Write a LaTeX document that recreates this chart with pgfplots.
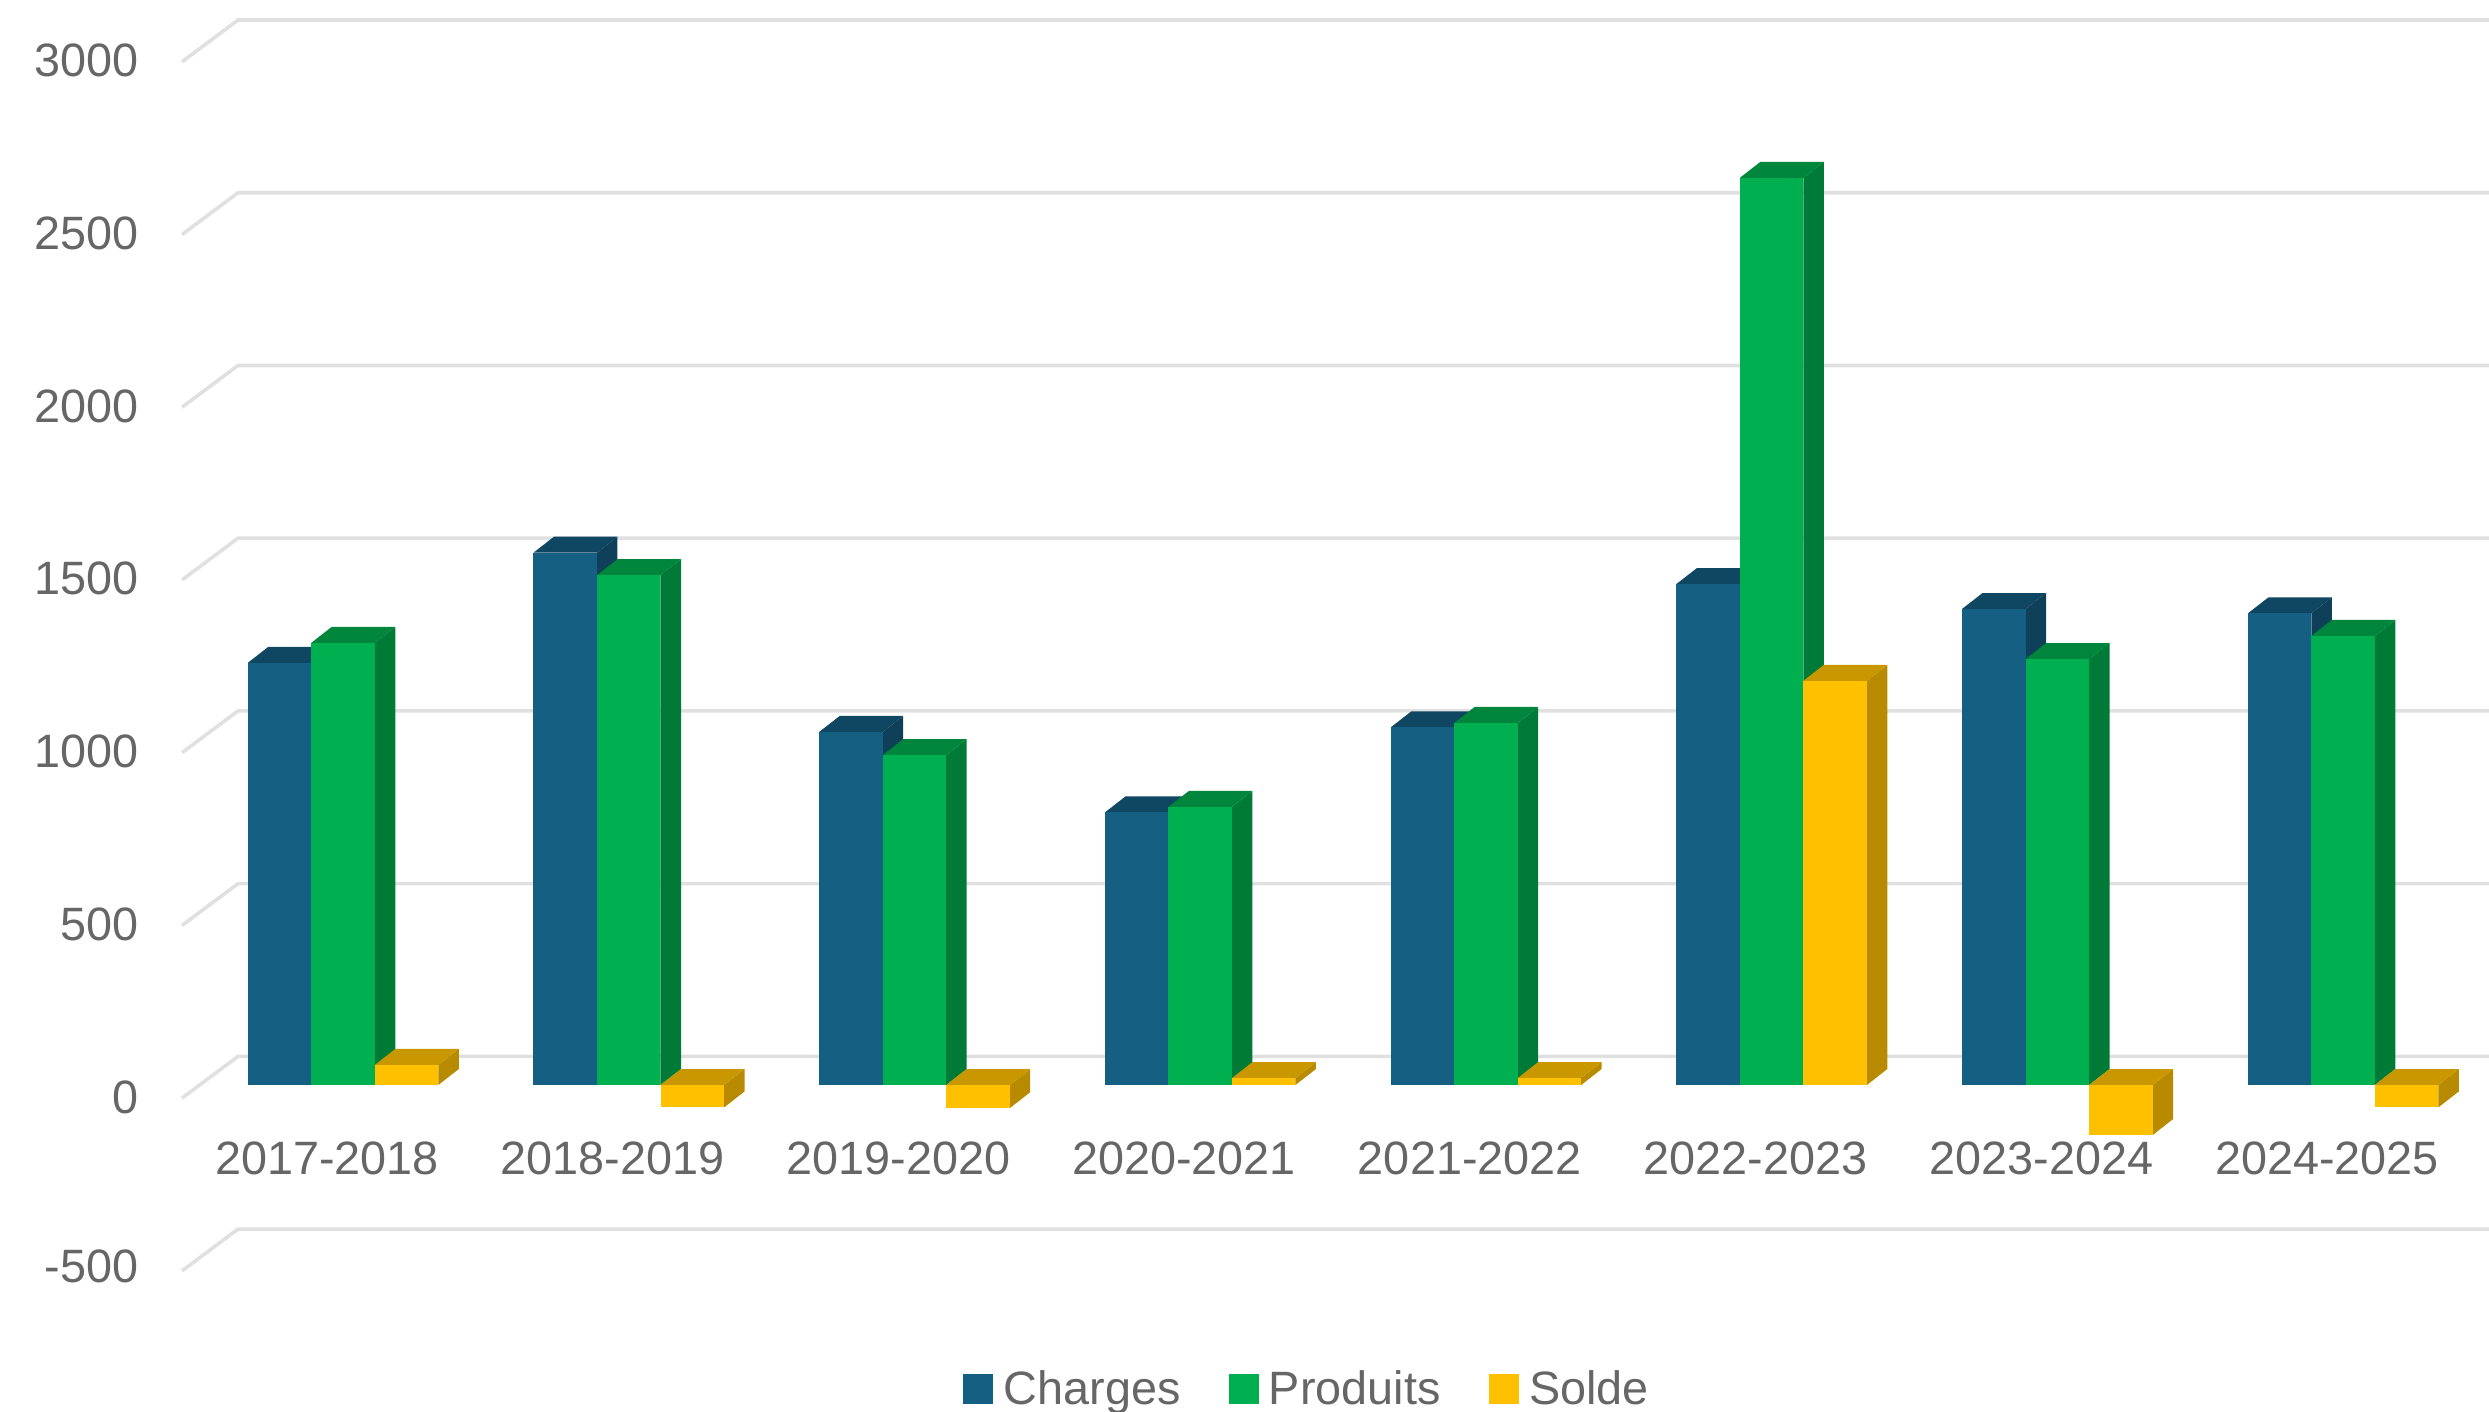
\documentclass[border=0pt]{standalone}
\usepackage{pgfplots}
\pgfplotsset{compat=1.18}
\usepackage{fontspec}
\setmainfont{Liberation Sans}
\definecolor{cBlue}{HTML}{156082}
\definecolor{cBlueTop}{HTML}{0F4661}
\definecolor{cBlueSide}{HTML}{0E4059}
\definecolor{cGreen}{HTML}{00B050}
\definecolor{cGreenTop}{HTML}{00853C}
\definecolor{cGreenSide}{HTML}{007A37}
\definecolor{cYellow}{HTML}{FFC000}
\definecolor{cYellowTop}{HTML}{C99700}
\definecolor{cYellowSide}{HTML}{B88A00}
\definecolor{cGrid}{HTML}{E0E0E0}
\definecolor{cText}{HTML}{666666}
% one 3-D column: #1 centre, #2 value, #3 colour stem, #4 extra options of the front face
\newcommand{\column}[4]{%
  \pgfmathsetmacro{\xl}{#1-0.11115}%
  \pgfmathsetmacro{\xr}{#1+0.11115}%
  \pgfmathsetmacro{\xlb}{\xl+0.0718}%
  \pgfmathsetmacro{\xrb}{\xr+0.0718}%
  \pgfmathsetmacro{\topv}{max(#2,0)}%
  \pgfmathsetmacro{\topb}{\topv+46.3}%
  \pgfmathsetmacro{\lowb}{#2+46.3}%
  \addplot[forget plot,draw=none,fill=#3Side] coordinates {(\xr,0) (\xrb,46.3) (\xrb,\lowb) (\xr,#2)} --cycle;
  \addplot[forget plot,draw=none,fill=#3Top] coordinates {(\xl,\topv) (\xlb,\topb) (\xrb,\topb) (\xr,\topv)} --cycle;
  \addplot[ybar,bar width=31.75pt,bar shift=0pt,draw=none,fill=#3,#4] coordinates {(#1,#2)};
}
\newcommand{\group}[5]{% #1 position, #2 charges, #3 produits, #4 solde, #5 options
  \pgfmathsetmacro{\xa}{#1-0.2223}%
  \pgfmathsetmacro{\xc}{#1+0.2223}%
  \edef\xA{\xa}\edef\xC{\xc}%
  \column{\xA}{#2}{cBlue}{#5}%
  \column{#1}{#3}{cGreen}{#5}%
  \column{\xC}{#4}{cYellow}{#5}%
}
\newcommand{\gridline}[2]{% front value, back value
  \addplot[forget plot,cGrid,line width=1.8pt] coordinates {(-0.5635,#1) (-0.3675,#2) (7.6,#2)};
}
\begin{document}
\begin{tikzpicture}
\begin{axis}[
  scale only axis,
  width=1244.5pt, height=705.5pt,
  xmin=-1.2006, xmax=7.511,
  ymin=-943.8, ymax=3141,
  axis line style={draw=none},
  major tick length=0pt,
  tick style={draw=none},
  ytick={-500,0,500,1000,1500,2000,2500,3000},
  yticklabels={\raisebox{4pt}{-500},0,500,1000,1500,2000,2500,3000},
  xtick={0,1,2,3,4,5,6,7},
  xticklabels={2017-2018,2018-2019,2019-2020,2020-2021,2021-2022,2022-2023,2023-2024,2024-2025},
  every tick label/.append style={font=\fontsize{23.4}{27}\selectfont,text=cText,inner sep=0pt},
  y tick label style={anchor=east,xshift=69.5pt,yshift=-6pt},
  x tick label style={anchor=center,xshift=-8pt,yshift=126.5pt},
  legend style={draw=none,fill=none,at={(0.387,0.0156)},anchor=west,inner sep=0pt,outer sep=0pt,
    font=\fontsize{23.4}{27}\selectfont,text=cText,
    /tikz/every odd column/.append style={column sep=3.2pt},
    /tikz/every even column/.append style={column sep=22pt}},
  legend columns=3,
  legend cell align=left,
  legend image code/.code={\fill[#1] (0pt,-7.5pt) rectangle (15pt,7.5pt);},
  legend entries={Charges,Produits,Solde},
]
\gridline{2962}{3083}
\gridline{2462}{2583}
\gridline{1962}{2083}
\gridline{1462}{1583}
\gridline{962}{1083}
\gridline{462}{583}
\gridline{-38}{83}
\gridline{-538}{-417}
\group{0}{1222}{1280}{58}{}
\group{1}{1541}{1476}{-65}{forget plot}
\group{2}{1022}{955}{-67}{forget plot}
\group{3}{789}{805}{20}{forget plot}
\group{4}{1035}{1048}{20}{forget plot}
\group{5}{1450}{2626}{1170}{forget plot}
\group{6}{1378}{1233}{-145}{forget plot}
\group{7}{1365}{1300}{-65}{forget plot}
\end{axis}
\pgfresetboundingbox
\useasboundingbox (current axis.south west) rectangle (current axis.north east);
\end{tikzpicture}
\end{document}
